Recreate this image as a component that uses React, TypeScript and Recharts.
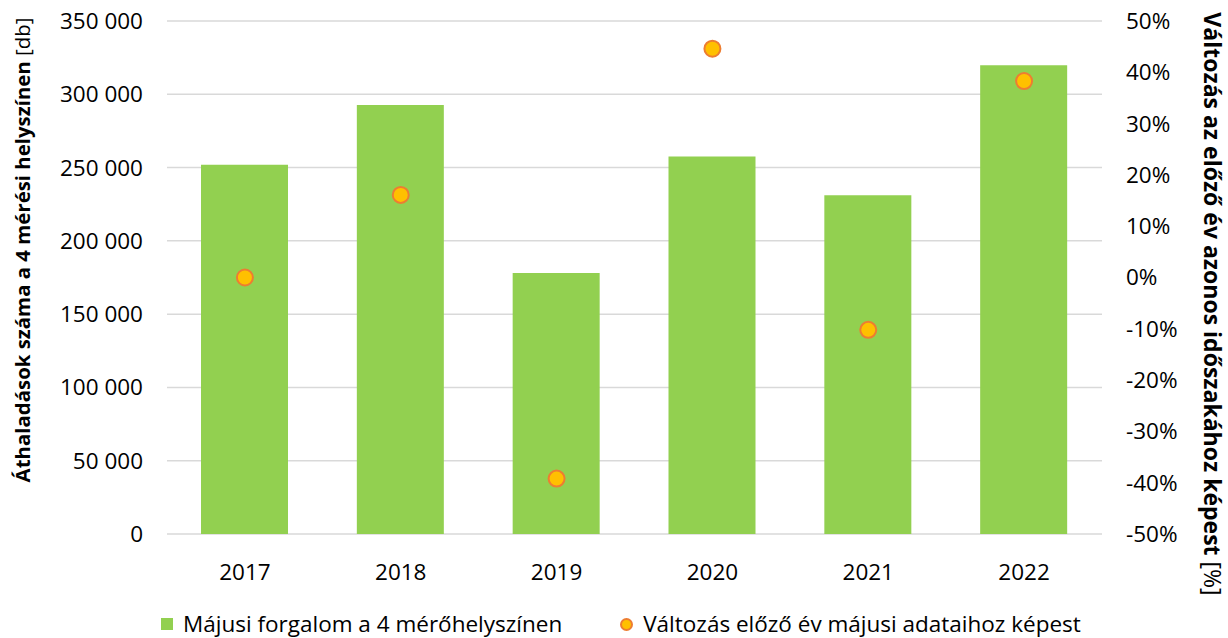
import React from 'react';
import { ComposedChart, Bar, Line, XAxis, YAxis, CartesianGrid, Legend } from 'recharts';

const years = ['2017', '2018', '2019', '2020', '2021', '2022'];
const traffic = [252000, 292700, 178000, 257500, 231200, 319800];
const change = [0, 16.1, -39.2, 44.6, -10.2, 38.3];
const leftTicks = [0, 50000, 100000, 150000, 200000, 250000, 300000, 350000];
const rightTicks = [-50, -40, -30, -20, -10, 0, 10, 20, 30, 40, 50];

const data = years.map((year, i) => ({ year, traffic: traffic[i], change: change[i] }));

const FONT = '"Open Sans", sans-serif';
const GREEN = '#92D050';

const fmtThousands = (v: number) => String(v).replace(/\B(?=(\d{3})+(?!\d))/g, ' ');

const LegendContent = () => (
  <div
    style={{
      display: 'flex',
      alignItems: 'center',
      paddingLeft: 161,
      fontFamily: FONT,
      fontSize: 22.5,
      lineHeight: '28px',
      color: '#000',
      height: 28,
    }}
  >
    <span style={{ display: 'inline-block', width: 12, height: 12, background: GREEN, marginRight: 10 }} />
    <span>Májusi forgalom a 4 mérőhelyszínen</span>
    <span
      style={{
        display: 'inline-block',
        width: 9,
        height: 9,
        borderRadius: '50%',
        background: '#FFC000',
        border: '2px solid #ED7D31',
        marginLeft: 58,
        marginRight: 10,
      }}
    />
    <span>Változás előző év májusi adataihoz képest</span>
  </div>
);

const LeftTitle = () => (
  <text
    x={22}
    y={250}
    transform="rotate(-90, 22, 250)"
    textAnchor="middle"
    dominantBaseline="central"
    fontFamily={FONT}
    fontSize={20.4}
    fill="#000"
  >
    <tspan fontWeight="bold">Áthaladások száma a 4 mérési helyszínen</tspan>
    <tspan> [db]</tspan>
  </text>
);

const RightTitle = () => (
  <text
    x={1213}
    y={304}
    transform="rotate(90, 1213, 304)"
    textAnchor="middle"
    dominantBaseline="central"
    fontFamily={FONT}
    fontSize={23}
    fill="#000"
  >
    <tspan fontWeight="bold">Változás az előző év azonos időszakához képest</tspan>
    <tspan> [%]</tspan>
  </text>
);

export default function App() {
  const tickStyle = { fontFamily: FONT, fontSize: 22.5, fill: '#000' };
  return (
    <div style={{ position: 'absolute', left: 0, top: 0, background: '#fff' }}>
      <ComposedChart width={1228} height={638} data={data} margin={{ top: 21, right: 0, bottom: 16, left: 0 }}>
        <CartesianGrid yAxisId="left" vertical={false} stroke="#D9D9D9" strokeWidth={1.5} />
        <XAxis
          dataKey="year"
          axisLine={false}
          tickLine={false}
          tickSize={0}
          tickMargin={30}
          tick={tickStyle}
          height={60}
        />
        <YAxis
          yAxisId="left"
          domain={[0, 350000]}
          ticks={leftTicks}
          tickFormatter={fmtThousands}
          axisLine={false}
          tickLine={false}
          tickSize={0}
          tickMargin={24}
          tick={tickStyle}
          width={167}
          label={{ content: LeftTitle }}
        />
        <YAxis
          yAxisId="right"
          orientation="right"
          domain={[-50, 50]}
          ticks={rightTicks}
          tickFormatter={(v: number) => `${v}%`}
          axisLine={false}
          tickLine={false}
          tickSize={0}
          tickMargin={24}
          tick={tickStyle}
          width={126}
          label={{ content: RightTitle }}
        />
        <Legend
          verticalAlign="bottom"
          content={LegendContent}
          wrapperStyle={{ position: 'absolute', left: 0, top: 610, width: 1228 }}
        />
        <Bar yAxisId="left" dataKey="traffic" fill={GREEN} barSize={87} isAnimationActive={false} />
        <Line
          yAxisId="right"
          dataKey="change"
          stroke="none"
          strokeWidth={0}
          dot={{ r: 8, fill: '#FFC000', stroke: '#ED7D31', strokeWidth: 2 }}
          activeDot={false}
          isAnimationActive={false}
        />
      </ComposedChart>
    </div>
  );
}
